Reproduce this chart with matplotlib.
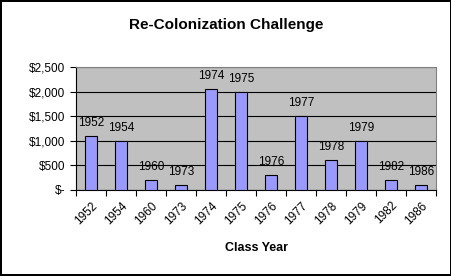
import numpy as np
import matplotlib.pyplot as plt
from matplotlib.ticker import FuncFormatter

# Class years and amounts
years = ['1952', '1954', '1960', '1973', '1974', '1975', '1976',
         '1977', '1978', '1979', '1982', '1986']
amounts = [1100, 1000, 200, 100, 2050, 2000, 300, 1500, 600, 1000, 200, 100]

plt.rcParams['font.family'] = ['Liberation Sans', 'DejaVu Sans']

fig = plt.figure(figsize=(4.52, 2.76), dpi=100)
fig.patch.set_facecolor('white')
fig.patch.set_edgecolor('black')
fig.patch.set_linewidth(1.5)

ax = fig.add_axes([0.168, 0.312, 0.797, 0.445])
ax.set_facecolor('#C0C0C0')

x = np.arange(len(years))
ax.bar(x, amounts, width=0.4, color='#9999FF', edgecolor='black', linewidth=0.8, zorder=3)

# data labels show the class year
for xi, yr, val in zip(x, years, amounts):
    ax.annotate(yr, (xi, val), xytext=(0, 5), textcoords='offset points',
                ha='center', va='bottom', fontsize=8.5, zorder=4)

ax.set_xlim(-0.5, len(years) - 0.5)
ax.set_ylim(0, 2500)
ax.set_yticks(np.arange(0, 2501, 500))
ax.yaxis.set_major_formatter(FuncFormatter(lambda v, p: '$-' if v == 0 else '${:,.0f}'.format(v)))
ax.grid(axis='y', color='black', linewidth=0.8, zorder=1)

# tick marks between categories, labels at category centers
ax.set_xticks(np.arange(-0.5, len(years), 1.0))
ax.set_xticklabels([])
ax.set_xticks(x, minor=True)
ax.set_xticklabels(years, minor=True, rotation=45, ha='right', rotation_mode='anchor', fontsize=8.5)
ax.tick_params(axis='x', which='minor', length=0, pad=7)
ax.tick_params(axis='x', which='major', length=4, direction='out')
ax.tick_params(axis='y', length=4, direction='out', labelsize=8.5)

for s in ['top', 'right']:
    ax.spines[s].set_color('#808080')
ax.spines['left'].set_color('black')
ax.spines['bottom'].set_color('black')

ax.set_xlabel('Class Year', fontsize=9, fontweight='bold', labelpad=11)
fig.text(0.5, 0.91, 'Re-Colonization Challenge', ha='center', va='center',
         fontsize=11, fontweight='bold')

fig.savefig('out.png', dpi=100)
